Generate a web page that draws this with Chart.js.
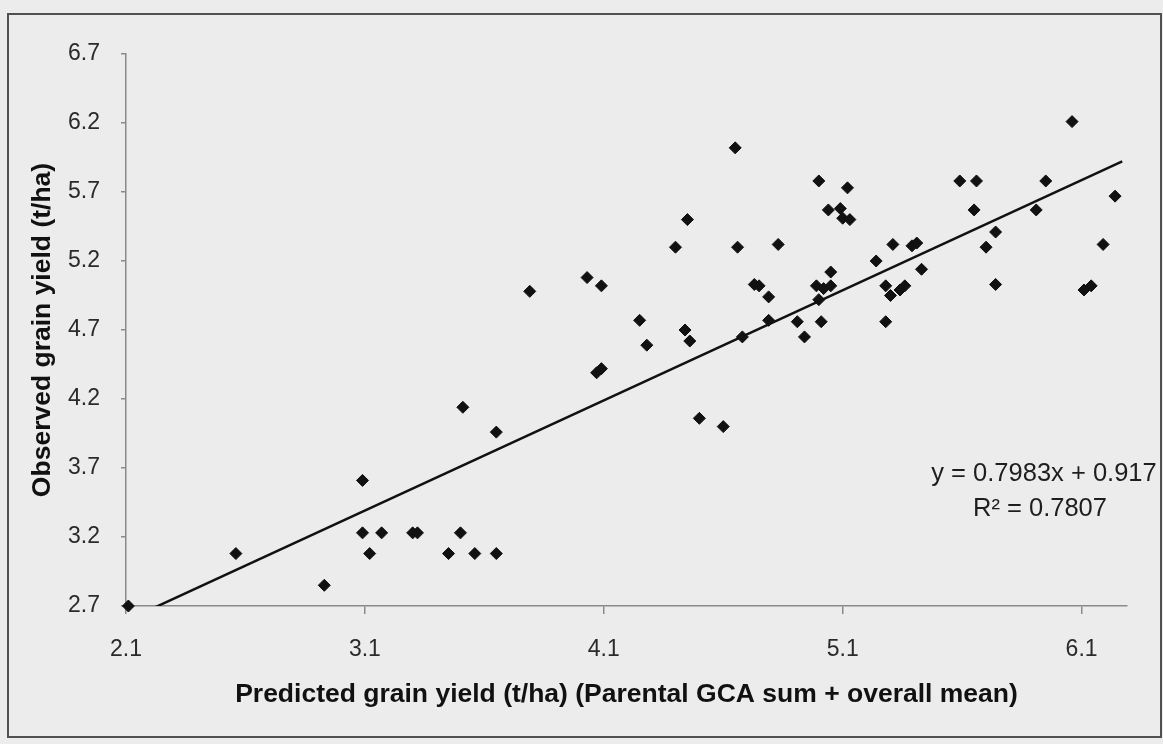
<!DOCTYPE html>
<html>
<head>
<meta charset="utf-8">
<script src="https://cdn.jsdelivr.net/npm/chart.js@4.4.1/dist/chart.umd.min.js"></script>
<style>
  html, body { margin: 0; padding: 0; background: #ececec; }
  canvas { display: block; }
</style>
</head>
<body>
<canvas id="c" width="1163" height="744"></canvas>
<script>
// ---- data ----
const predicted = [
  2.11, 2.56, 2.93, 3.09, 3.09, 3.12, 3.17, 3.30, 3.32, 3.45,
  3.50, 3.51, 3.56, 3.65, 3.65, 3.79, 4.03, 4.09, 4.07, 4.09,
  4.25, 4.28, 4.40, 4.44, 4.45, 4.46, 4.50, 4.60, 4.65, 4.66,
  4.68, 4.73, 4.75, 4.79, 4.79, 4.83, 4.91, 4.94, 4.99, 5.00,
  5.00, 5.01, 5.02, 5.04, 5.05, 5.05, 5.09, 5.10, 5.12, 5.13,
  5.24, 5.28, 5.28, 5.30, 5.31, 5.34, 5.36, 5.39, 5.41, 5.43,
  5.59, 5.65, 5.66, 5.70, 5.74, 5.74, 5.91, 5.95, 6.06, 6.11,
  6.14, 6.19, 6.24
];
const observed = [
  2.70, 3.08, 2.85, 3.61, 3.23, 3.08, 3.23, 3.23, 3.23, 3.08,
  3.23, 4.14, 3.08, 3.08, 3.96, 4.98, 5.08, 5.02, 4.39, 4.42,
  4.77, 4.59, 5.30, 4.70, 5.50, 4.62, 4.06, 4.00, 6.02, 5.30,
  4.65, 5.03, 5.02, 4.94, 4.77, 5.32, 4.76, 4.65, 5.02, 5.78,
  4.92, 4.76, 5.00, 5.57, 5.02, 5.12, 5.58, 5.51, 5.73, 5.50,
  5.20, 5.02, 4.76, 4.95, 5.32, 4.99, 5.02, 5.31, 5.33, 5.14,
  5.78, 5.57, 5.78, 5.30, 5.41, 5.03, 5.57, 5.78, 6.21, 4.99,
  5.02, 5.32, 5.67
];
const xTickValues = [2.1, 3.1, 4.1, 5.1, 6.1];
const yTickValues = [2.7, 3.2, 3.7, 4.2, 4.7, 5.2, 5.7, 6.2, 6.7];
const trendSlope = 0.7983;
const trendIntercept = 0.917;
const trendRange = [2.1, 6.27];
const rSquared = 0.7807;
const xTitle = 'Predicted grain yield (t/ha) (Parental GCA sum + overall mean)';
const yTitle = 'Observed grain yield (t/ha)';
const eqText = 'y = ' + trendSlope + 'x + ' + trendIntercept;
const r2Text = 'R\u00B2 = ' + rSquared;

// ---- build chart ----
const FAMILY = '"Liberation Sans", Arial, Helvetica, sans-serif';
const points = predicted.map((x, i) => ({ x: x, y: observed[i] }));
const trendPoints = trendRange.map(x => ({ x: x, y: trendSlope * x + trendIntercept }));

const framePlugin = {
  id: 'frame',
  beforeDraw(chart) {
    const ctx = chart.ctx;
    ctx.save();
    ctx.fillStyle = '#ececec';
    ctx.fillRect(0, 0, chart.width, chart.height);
    ctx.strokeStyle = '#505050';
    ctx.lineWidth = 2;
    ctx.strokeRect(8, 14, 1153, 723);
    ctx.restore();
  },
  afterDraw(chart) {
    const ctx = chart.ctx;
    ctx.save();
    ctx.font = '25.5px ' + FAMILY;
    ctx.fillStyle = '#1e1e1e';
    ctx.textAlign = 'center';
    ctx.textBaseline = 'middle';
    ctx.fillText(eqText, 1044, 474);
    ctx.fillText(r2Text, 1040, 509);
    ctx.restore();
  }
};

new Chart(document.getElementById('c'), {
  type: 'scatter',
  data: {
    datasets: [
      {
        label: 'Observed',
        data: points,
        pointStyle: 'rectRot',
        pointRadius: 6,
        pointBorderWidth: 1,
        backgroundColor: '#111111',
        borderColor: '#111111',
        clip: false,
        order: 1
      },
      {
        label: 'Linear trend',
        data: trendPoints,
        showLine: true,
        pointRadius: 0,
        borderColor: '#111111',
        borderWidth: 2.5,
        order: 2
      }
    ]
  },
  plugins: [framePlugin],
  options: {
    responsive: false,
    animation: false,
    layout: { padding: { top: 54, right: 36, bottom: 0, left: 0 } },
    plugins: { legend: { display: false }, tooltip: { enabled: false } },
    scales: {
      x: {
        type: 'linear',
        min: 2.1,
        max: 6.29,
        afterBuildTicks: s => { s.ticks = xTickValues.map(v => ({ value: v })); },
        afterFit: s => { s.height = 138; },
        grid: { drawOnChartArea: false, drawTicks: true, tickLength: 8, color: '#8a8a8a', lineWidth: 1.5 },
        border: { display: true, color: '#8a8a8a', width: 1.5 },
        ticks: {
          font: { size: 23, family: FAMILY },
          color: '#2a2a2a',
          padding: 22,
          maxRotation: 0,
          autoSkip: false,
          callback: v => Number(v).toFixed(1)
        },
        title: {
          display: true,
          text: xTitle,
          font: { size: 26.5, weight: 'bold', family: FAMILY },
          color: '#111111',
          padding: { top: 0, bottom: 33 }
        }
      },
      y: {
        type: 'linear',
        min: 2.7,
        max: 6.7,
        afterBuildTicks: s => { s.ticks = yTickValues.map(v => ({ value: v })); },
        afterFit: s => { s.width = 126; },
        grid: { drawOnChartArea: false, drawTicks: true, tickLength: 5, color: '#8a8a8a', lineWidth: 1.5 },
        border: { display: true, color: '#8a8a8a', width: 1.5 },
        ticks: {
          font: { size: 23, family: FAMILY },
          color: '#2a2a2a',
          padding: 21,
          autoSkip: false,
          callback: v => Number(v).toFixed(1)
        },
        title: {
          display: true,
          text: yTitle,
          font: { size: 26.5, weight: 'bold', family: FAMILY },
          color: '#111111',
          padding: { top: 27, bottom: 0 }
        }
      }
    }
  }
});
</script>
</body>
</html>
